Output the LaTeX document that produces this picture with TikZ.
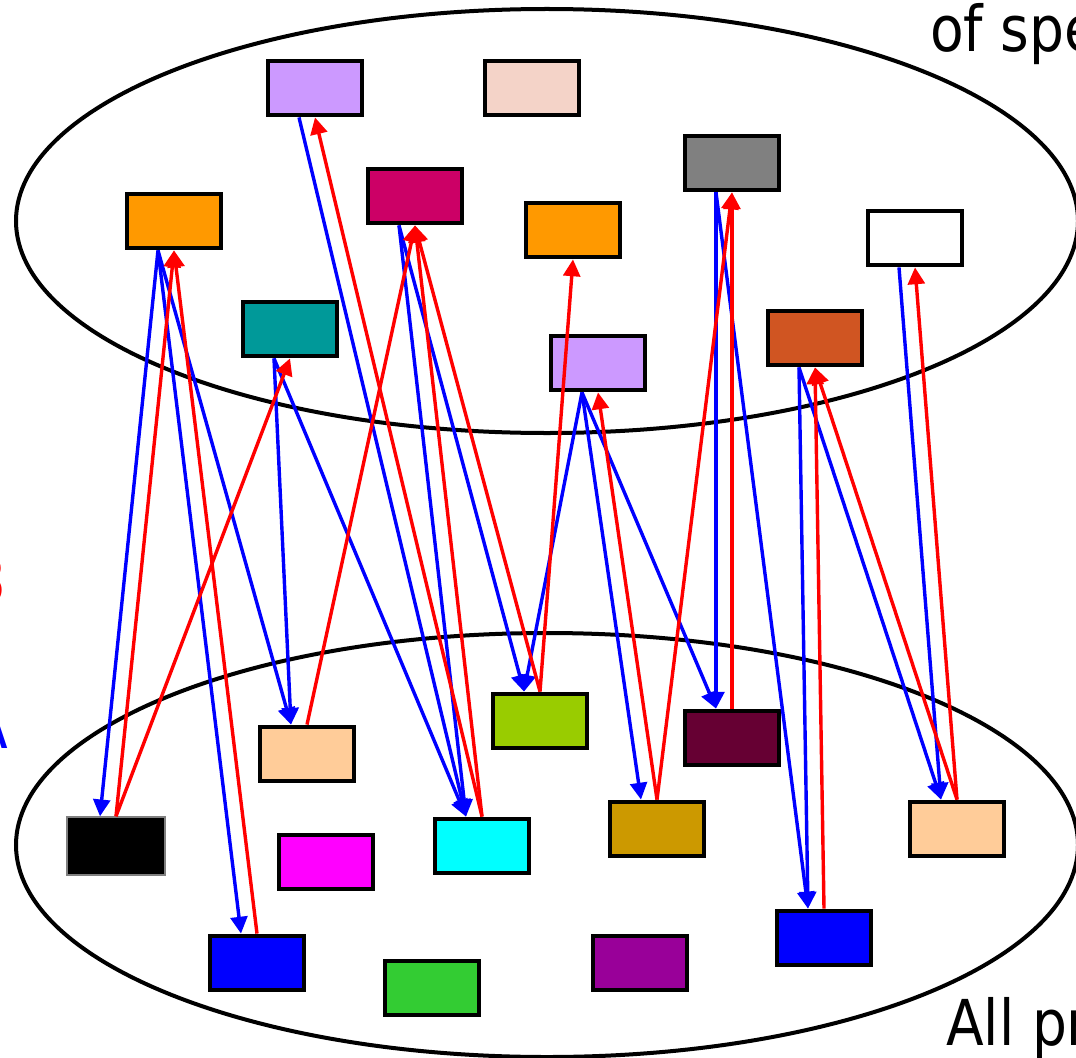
\documentclass[tikz,border=0pt]{standalone}
\usepackage{fontspec}
\setmainfont{DejaVu Sans}
\newfontfamily\labelfont[FakeStretch=0.87]{DejaVu Sans}
\usepackage{tikz}
\usetikzlibrary{positioning,arrows.meta}

\definecolor{lav}{HTML}{CC99FF}
\definecolor{blush}{HTML}{F4D3C8}
\definecolor{grey}{HTML}{808080}
\definecolor{berry}{HTML}{CC0066}
\definecolor{tangerine}{HTML}{FF9900}
\definecolor{tealc}{HTML}{009999}
\definecolor{rustc}{HTML}{D05522}
\definecolor{lime}{HTML}{99CC00}
\definecolor{wine}{HTML}{660033}
\definecolor{peach}{HTML}{FFCC99}
\definecolor{aquac}{HTML}{00FFFF}
\definecolor{ochre}{HTML}{CC9900}
\definecolor{fuchsiac}{HTML}{FF00FF}
\definecolor{leaf}{HTML}{33CC33}
\definecolor{plum}{HTML}{990099}

\tikzset{
  obj/.style={draw=black, line width=0.11cm, minimum width=2.36cm,
    minimum height=1.36cm, inner sep=0pt},
  set/.style={draw=black, line width=0.1cm},
  fwd/.style={draw=blue, line width=0.085cm,
    -{Triangle[length=0.42cm,width=0.42cm]}},
  bwd/.style={draw=red, line width=0.085cm,
    -{Triangle[length=0.42cm,width=0.42cm]}},
  big/.style={font=\labelfont\fontsize{45}{50}\selectfont, inner sep=0pt}
}

\begin{document}
\begin{tikzpicture}[x=0.025cm,y=-0.025cm]
\useasboundingbox (0,0) rectangle (1076,1057);
\clip (0,0) rectangle (1076,1057);

% the two sets
\draw[set] (547,221) ellipse [x radius=531, y radius=212];
\draw[set] (547,845) ellipse [x radius=531, y radius=212];

% upper set
\node[obj, fill=lav]       (lavA)    at (315,88)  {};
\node[obj, fill=blush]     (blush)   at (532,88)  {};
\node[obj, fill=grey]      (grey)    at (732,163) {};
\node[obj, fill=berry]     (berry)   at (415,196) {};
\node[obj, fill=tangerine] (orA)     at (174,221) {};
\node[obj, fill=tangerine] (orB)     at (573,230) {};
\node[obj, fill=white]     (blank)   at (915,238) {};
\node[obj, fill=tealc]     (teal)    at (290,329) {};
\node[obj, fill=lav]       (lavB)    at (598,363) {};
\node[obj, fill=rustc]     (rust)    at (815,338) {};

% lower set
\node[obj, fill=lime]      (lime)    at (540,721) {};
\node[obj, fill=wine]      (wine)    at (732,738) {};
\node[obj, fill=peach]     (peachA)  at (307,754) {};
\node[obj, fill=black, draw=grey, line width=1pt,
  minimum width=2.45cm, minimum height=1.45cm] (ink) at (116,846) {};
\node[obj, fill=aquac]     (aqua)    at (482,846) {};
\node[obj, fill=ochre]     (ochre)   at (657,829) {};
\node[obj, fill=peach]     (peachB)  at (957,829) {};
\node[obj, fill=fuchsiac]  (fuchsia) at (326,862) {};
\node[obj, fill=blue]      (blueA)   at (257,963) {};
\node[obj, fill=leaf]      (leaf)    at (432,988) {};
\node[obj, fill=plum]      (plum)    at (640,963) {};
\node[obj, fill=blue]      (blueB)   at (824,938) {};

% downward maps
\foreach \a/\b in {orA/ink, orA/peachA, orA/blueA, lavA/aqua, berry/lime,
    berry/aqua, teal/peachA, teal/aqua, lavB/lime, lavB/ochre, lavB/wine,
    grey/wine, grey/blueB, rust/blueB, rust/peachB, blank/peachB}
  \draw[fwd] ([xshift=-0.4cm]\a.south) -- ([xshift=-0.4cm]\b.north);

% upward maps
\foreach \a/\b in {ink/orA, ink/teal, blueA/orA, peachA/berry, aqua/lavA,
    aqua/berry, lime/berry, lime/orB, wine/grey, ochre/grey, ochre/lavB,
    blueB/rust, peachB/rust, peachB/blank}
  \draw[bwd] (\a.north) -- (\b.south);

% labels
\node[big, anchor=base west] (upper) at (930,52) {of spe};
\node[big, anchor=base west] (lower) at (946,1045) {All pr};
\node[big, anchor=base east, text=red]  (lblB) at (7,603) {3};
\node[big, anchor=base east, text=blue] (lblA) at (8,748) {A};

\end{tikzpicture}
\end{document}
